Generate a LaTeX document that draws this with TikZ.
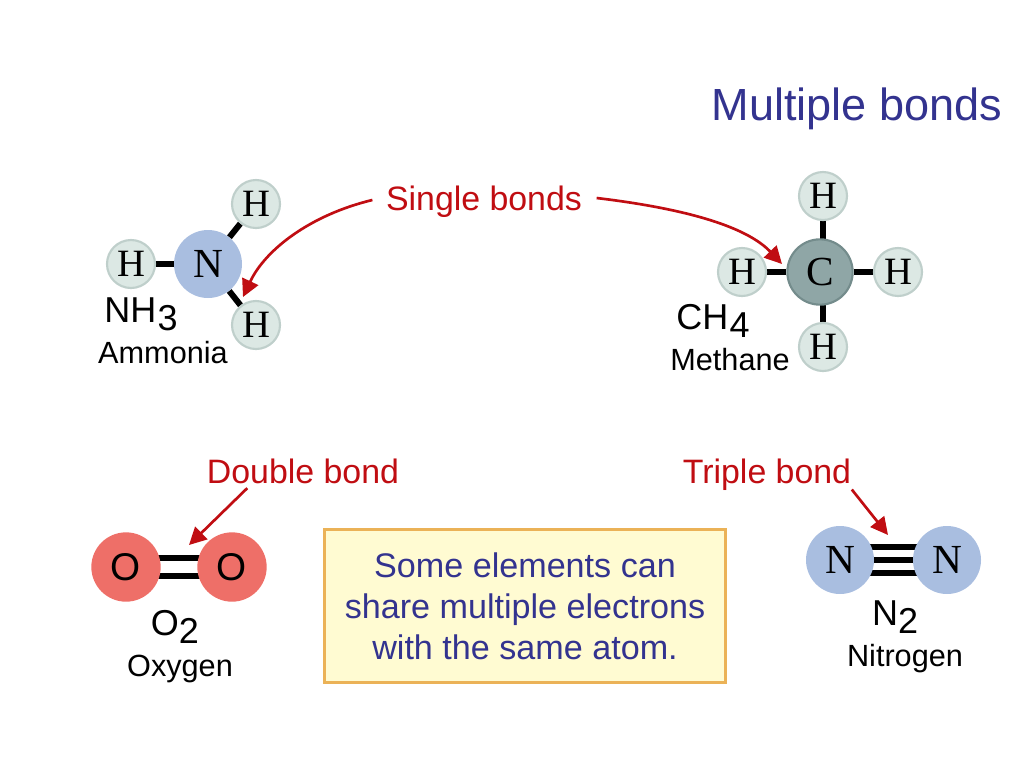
\documentclass[tikz,border=0pt]{standalone}
\usepackage{fontspec}
\setmainfont{Liberation Sans}
\newfontfamily\atomfont{Liberation Serif}
\usetikzlibrary{arrows.meta,backgrounds}
\definecolor{titleblue}{HTML}{33338F}
\definecolor{arrowred}{HTML}{C00D12}
\definecolor{hfill}{HTML}{DCE8E4}
\definecolor{hline}{HTML}{BFCFCB}
\definecolor{cfill}{HTML}{8FA6A6}
\definecolor{cline}{HTML}{748C8C}
\definecolor{nfill}{HTML}{A9BEE0}
\definecolor{ofill}{HTML}{EE6F68}
\definecolor{boxfill}{HTML}{FFFBD2}
\definecolor{boxline}{HTML}{EBB257}
\tikzset{
  atomH/.style={circle,draw=hline,line width=1.6pt,fill=hfill,minimum size=36pt,inner sep=0pt,font=\atomfont\fontsize{29}{29}\selectfont},
  atomC/.style={circle,draw=cline,line width=1.6pt,fill=cfill,minimum size=49pt,inner sep=0pt,font=\atomfont\fontsize{31}{31}\selectfont},
  atomN/.style={circle,fill=nfill,minimum size=51pt,inner sep=0pt,font=\atomfont\fontsize{31}{31}\selectfont},
  atomO/.style={circle,fill=ofill,minimum size=52pt,inner sep=0pt,font=\fontsize{29}{29}\selectfont},
  bondline/.style={line width=4.5pt,black},
  formula/.style={font=\fontsize{27}{27}\selectfont},
  molname/.style={font=\fontsize{23}{23}\selectfont},
  redlabel/.style={text=arrowred,font=\fontsize{25.4}{30}\selectfont},
  redarrow/.style={draw=arrowred,line width=2pt,-{Triangle[length=13pt,width=13pt]}}
}
\begin{document}
\begin{tikzpicture}[x=0.75pt,y=-0.75pt]
  \useasboundingbox (0,0) rectangle (1024,768);
  \node[text=titleblue,font=\fontsize{33.8}{40}\selectfont] (title) at (857,109) {Multiple bonds};
  % ammonia
  \node[atomN] (ammN) at (208,264) {N};
  \node[atomH] (ammH1) at (256,204) {H};
  \node[atomH] (ammH2) at (131,264) {H};
  \node[atomH] (ammH3) at (256,325) {H};
  \node[formula] (ammF) at (141,314) {NH\kern1pt\raisebox{-6pt}{3}};
  \node[molname] (ammL) at (163,353) {Ammonia};
  % methane
  \node[atomC] (metC) at (820,272) {C};
  \node[atomH] (metH1) at (823,196) {H};
  \node[atomH] (metH2) at (742,272) {H};
  \node[atomH] (metH3) at (898,272) {H};
  \node[atomH] (metH4) at (823,347) {H};
  \node[formula] (metF) at (713,321) {CH\kern1pt\raisebox{-6pt}{4}};
  \node[molname] (metL) at (730,360) {Methane};
  % oxygen
  \node[atomO] (oxyA) at (126,567) {O};
  \node[atomO] (oxyB) at (232,567) {O};
  \node[formula] (oxyF) at (175,627) {O\raisebox{-6pt}{2}};
  \node[molname] (oxyL) at (180,669) {Oxygen};
  % nitrogen
  \node[atomN] (nitA) at (840,560) {N};
  \node[atomN] (nitB) at (947,560) {N};
  \node[formula] (nitF) at (895,617) {N\raisebox{-6pt}{2}};
  \node[molname] (nitL) at (905,659) {Nitrogen};
  % bonds
  \begin{scope}[on background layer]
    \draw[bondline] (ammN) to (ammH1);
    \draw[bondline] (ammN) to (ammH2);
    \draw[bondline] (ammN) to (ammH3);
    \draw[bondline] (metH1.center) to (metH1.center |- metC.center);
    \draw[bondline] (metC) to (metH2);
    \draw[bondline] (metC) to (metH3);
    \draw[bondline] (metH4.center) to (metH4.center |- metC.center);
    \draw[bondline] ([yshift=7pt]oxyA.center) to ([yshift=7pt]oxyB.center);
    \draw[bondline] ([yshift=-7pt]oxyA.center) to ([yshift=-7pt]oxyB.center);
    \draw[bondline] ([yshift=9.75pt]nitA.center) to ([yshift=9.75pt]nitB.center);
    \draw[bondline] (nitA.center) to (nitB.center);
    \draw[bondline] ([yshift=-9.75pt]nitA.center) to ([yshift=-9.75pt]nitB.center);
  \end{scope}
  % labels and arrows
  \node[redlabel] (single) at (484,202) {Single bonds};
  \node[redlabel] (double) at (303,471) {Double bond};
  \node[redlabel] (triple) at (767,475) {Triple bond};
  \coordinate (tipA) at (243,297);
  \coordinate (tipB) at (782,264);
  \coordinate (tipC) at (189,545);
  \coordinate (tipD) at (888,535);
  \draw[redarrow] (single.west) ++(-9,-2) .. controls (310,215) and (265,250) .. (tipA);
  \draw[redarrow] (single.east) ++(10,-4) .. controls (680,208) and (745,225) .. (tipB);
  \draw[redarrow] (double.south west) ++(45,0) -- (tipC);
  \draw[redarrow] (triple.south east) ++(-4,-6) -- (tipD);
  % note box
  \node[draw=boxline,line width=1.8pt,fill=boxfill,minimum width=301pt,minimum height=115pt,inner sep=0pt,align=center,text=titleblue,font=\fontsize{25.6}{30.7}\selectfont] (note) at (525,606) {Some elements can\\share multiple electrons\\with the same atom.};
\end{tikzpicture}
\end{document}
